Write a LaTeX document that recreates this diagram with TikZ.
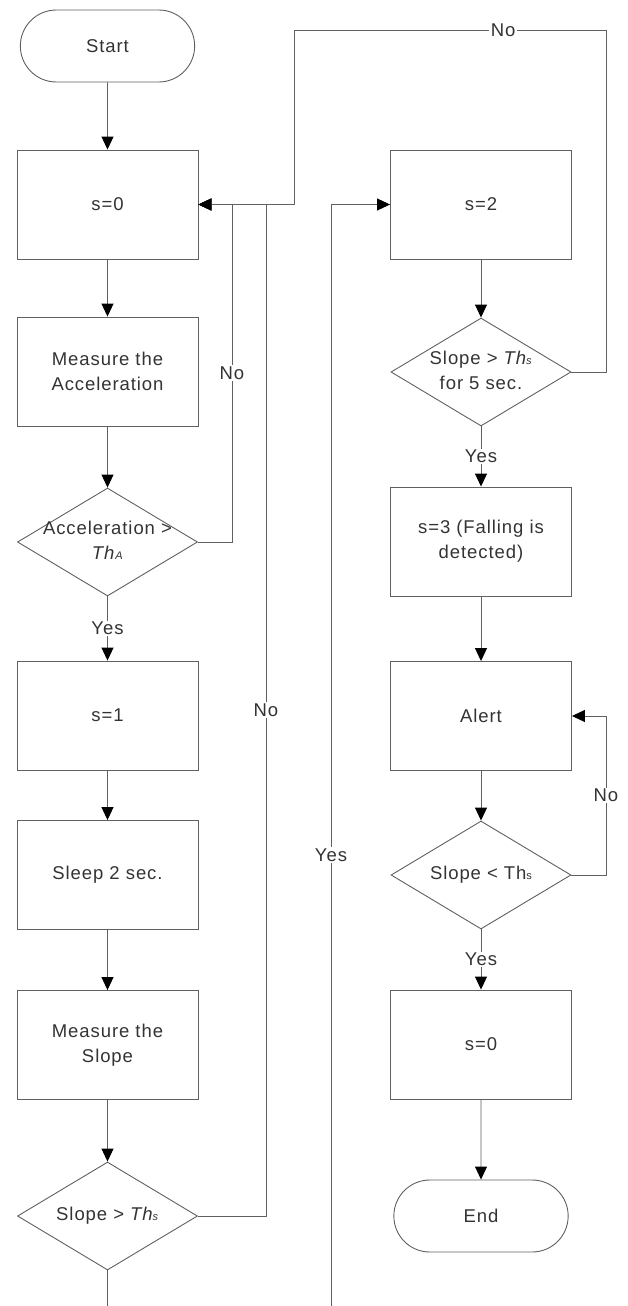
\documentclass[tikz,border=0pt]{standalone}
\usepackage{fontspec}
\setmainfont{Liberation Sans}[LetterSpace=5]
\usetikzlibrary{shapes.geometric,shapes.misc,arrows.meta}
\definecolor{txt}{HTML}{333333}
\definecolor{ln}{HTML}{606060}
\newcommand\ff{\fontsize{18.5}{25}\selectfont}
\newcommand\subsc[1]{{\fontsize{11}{11}\selectfont #1}}
\tikzset{
 base/.style={draw=ln, line width=0.9pt, text=txt, font=\ff},
 box/.style={base, rectangle, minimum width=181pt, minimum height=109pt, align=center, inner sep=2pt},
 term/.style={base, rounded rectangle, minimum width=181pt, minimum height=72pt},
 dec/.style={base, diamond, minimum width=180pt, minimum height=108pt, inner sep=0pt},
 flow/.style={draw=ln, line width=0.9pt, -{Triangle[length=13pt,width=12pt,color=black]}},
 lbl/.style={fill=white, text=txt, font=\ff, inner sep=1.5pt},
}
\begin{document}
\begin{tikzpicture}[x=1pt,y=-1pt]
\useasboundingbox (0,0) rectangle (628,1306);
\begin{scope}
\clip (0,0) rectangle (628,1306);
% left column
\node[term] (start) at (107.5,46) {Start};
\node[box] (s0) at (107.5,204.5) {s=0};
\node[box] (meas) at (107.5,371.5) {Measure the\\Acceleration};
\node[dec] (acc) at (107.5,542) {\makebox[0pt]{\begin{tabular}{@{}c@{}}Acceleration >\\\textit{Th}\subsc{\textit{A}}\end{tabular}}};
\node[box] (s1) at (107.5,715.5) {s=1};
\node[box] (sleep) at (107.5,875) {Sleep 2 sec.};
\node[box] (ms) at (107.5,1045) {Measure the\\Slope};
\node[dec] (slope) at (107.5,1216) {\makebox[0pt]{Slope > \textit{Th\subsc{s}}}};
% right column
\node[box] (s2) at (481,204.5) {s=2};
\node[dec] (d2) at (481,372) {\makebox[0pt]{\begin{tabular}{@{}c@{}}Slope > \textit{Th\subsc{s}}\\for 5 sec.\end{tabular}}};
\node[box] (s3) at (481,541.5) {s=3 (Falling is\\detected)};
\node[box] (alert) at (481,716) {Alert};
\node[dec] (d3) at (481,875) {\makebox[0pt]{Slope < Th\subsc{s}}};
\node[box] (s0b) at (481,1044.5) {s=0};
\node[term] (endn) at (481,1216) {End};
% helper coordinates
\coordinate (nA) at (232,204.5);
\coordinate (nS) at (266,204.5);
\coordinate (bl) at (107.5,1330);
\coordinate (br) at (331,1330);
\coordinate (yt) at (331,204.5);
\coordinate (t1) at (606,30);
\coordinate (t2) at (294,30);
\coordinate (t3) at (294,204.5);
\coordinate (nR) at (606,716);
% left connectors
\draw[flow] (start) -- (s0);
\draw[flow] (s0) -- (meas);
\draw[flow] (meas) -- (acc);
\draw[flow] (acc.east) -| node[lbl,pos=0.75]{No} (nA) -- (s0.east);
\draw[flow] (acc) -- node[lbl]{Yes} (s1);
\draw[flow] (s1) -- (sleep);
\draw[flow] (sleep) -- (ms);
\draw[flow] (ms) -- (slope);
\draw[flow] (slope.east) -| node[lbl,pos=0.75]{No} (nS) -- (s0.east);
\draw[flow] (slope.south) -- (bl) -- (br) -- node[lbl,pos=0.422]{Yes} (yt) -- (s2.west);
% right connectors
\draw[flow] (s2) -- (d2);
\draw[flow] (d2.east) -| (t1) -- node[lbl,pos=0.33]{No} (t2) -- (t3) -- (s0.east);
\draw[flow] (d2) -- node[lbl]{Yes} (s3);
\draw[flow] (s3) -- (alert);
\draw[flow] (alert) -- (d3);
\draw[flow] (d3.east) -| node[lbl,pos=0.75]{No} (nR) -- (alert.east);
\draw[flow] (d3) -- node[lbl]{Yes} (s0b);
\draw[flow] (s0b) -- (endn);
\end{scope}
\end{tikzpicture}
\end{document}
